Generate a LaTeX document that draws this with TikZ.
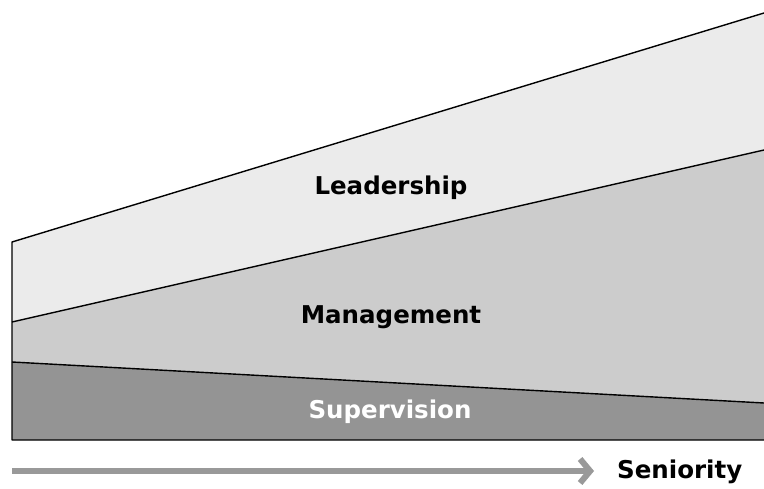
\documentclass[tikz,border=0pt]{standalone}
\usepackage{fontspec}
\setmainfont{DejaVu Sans}
\usetikzlibrary{arrows.meta}
\definecolor{leadc}{gray}{0.92}
\definecolor{mgmtc}{gray}{0.80}
\definecolor{supc}{gray}{0.58}
\definecolor{arrc}{gray}{0.60}
\tikzset{
  band/.style={draw=black, line width=1.4pt, line join=round},
  lbl/.style={font=\bfseries\fontsize{24.5}{28}\selectfont, inner sep=0pt, anchor=base},
}
\begin{document}
\begin{tikzpicture}[x=1pt,y=-1pt]
\useasboundingbox (0,0) rectangle (764,489);
% coordinates
\coordinate (tl) at (12,242);
\coordinate (tr) at (764,13);
\coordinate (ml) at (12,322);
\coordinate (mr) at (764,150);
\coordinate (sl) at (12,362);
\coordinate (sr) at (764,403);
\coordinate (bl) at (12,440);
\coordinate (br) at (764,440);
% fills
\fill[leadc] (tl) -- (tr) -- (mr) -- (ml) -- cycle;
\fill[mgmtc] (ml) -- (mr) -- (sr) -- (sl) -- cycle;
\fill[supc] (sl) -- (sr) -- (br) -- (bl) -- cycle;
% outlines
\draw[band] (tr) -- (tl) -- (bl) -- (br);
\draw[band] (ml) -- (mr);
\draw[band] (sl) -- (sr);
% labels
\node[lbl] (lead) at (391,195) {Leadership};
\node[lbl] (mgmt) at (391,324) {Management};
\node[lbl, text=white] (sup) at (390,418) {Supervision};
% arrow
\coordinate (a0) at (12,471);
\node[lbl, anchor=base west] (sen) at (617,478) {Seniority};
\coordinate (a1) at (594,471);
\draw[arrc, line width=6pt, -{Straight Barb[length=10pt, width=24pt]}] (a0) -- (a1);
\end{tikzpicture}
\end{document}
